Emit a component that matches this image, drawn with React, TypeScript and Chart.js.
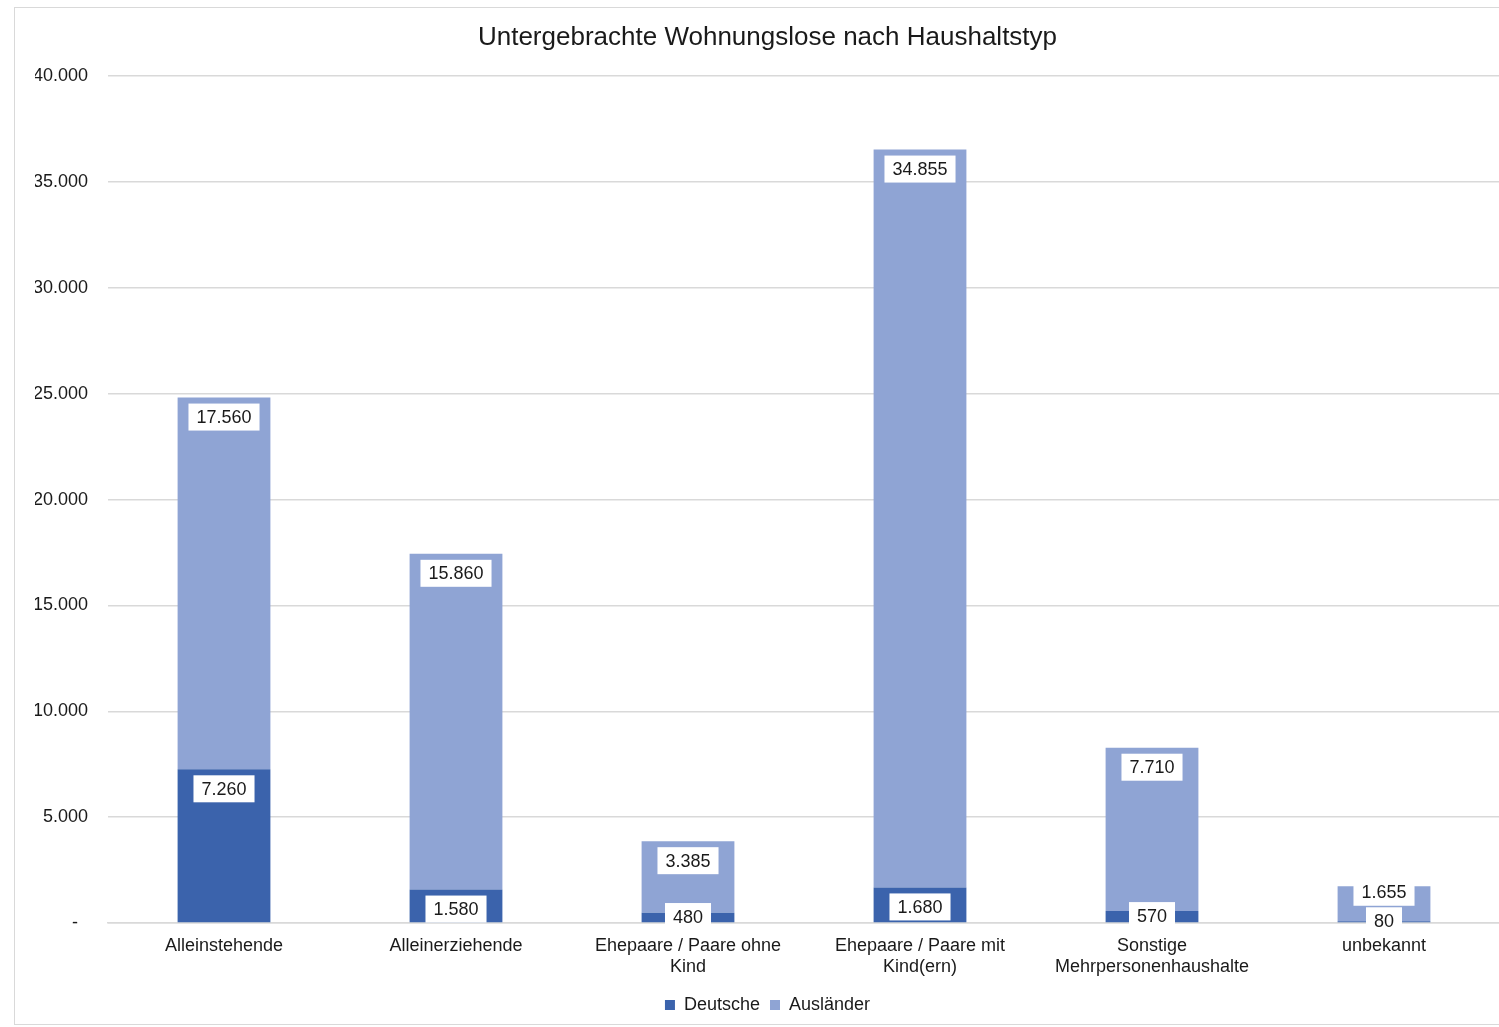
import React, { useEffect, useRef } from "react";
import { Chart, registerables } from "chart.js";

Chart.register(...registerables);

const categories: (string | string[])[] = [
  "Alleinstehende",
  "Alleinerziehende",
  ["Ehepaare / Paare ohne", "Kind"],
  ["Ehepaare / Paare mit", "Kind(ern)"],
  ["Sonstige", "Mehrpersonenhaushalte"],
  "unbekannt",
];
const deutsche = [7260, 1580, 480, 1680, 570, 80];
const auslaender = [17560, 15860, 3385, 34855, 7710, 1655];
const seriesNames = ["Deutsche", "Ausländer"];
const title = "Untergebrachte Wohnungslose nach Haushaltstyp";

const FONT = "'Liberation Sans', Arial, sans-serif";
const fmt = (v: number) => v.toLocaleString("de-DE");

const labelPlugin = {
  id: "boxLabels",
  afterDatasetsDraw(chart: any) {
    const ctx = chart.ctx;
    ctx.save();
    ctx.font = `18px ${FONT}`;
    ctx.textAlign = "center";
    ctx.textBaseline = "middle";
    chart.data.datasets.forEach((ds: any, di: number) => {
      const meta = chart.getDatasetMeta(di);
      meta.data.forEach((bar: any, i: number) => {
        const v = ds.data[i];
        const top = Math.min(bar.y, bar.base);
        const bottom = Math.max(bar.y, bar.base);
        const h = bottom - top;
        let cy: number;
        if (di === 0) {
          cy = h >= 30 ? top + 19.5 : (top + bottom) / 2 - 1;
        } else {
          cy = h >= 45 ? top + 19.5 : top + 6;
        }
        const text = fmt(v);
        const tw = ctx.measureText(text).width;
        const bw = tw + 16;
        const bh = 27;
        ctx.fillStyle = "#ffffff";
        ctx.fillRect(bar.x - bw / 2, cy - bh / 2, bw, bh);
        ctx.fillStyle = "#1a1a1a";
        ctx.fillText(text, bar.x, cy + 1);
      });
    });
    ctx.restore();
  },
};

export default function App() {
  const ref = useRef<HTMLCanvasElement>(null);
  useEffect(() => {
    if (!ref.current) return;
    const chart = new Chart(ref.current, {
      type: "bar",
      data: {
        labels: categories,
        datasets: [
          {
            label: seriesNames[0],
            data: deutsche,
            backgroundColor: "#3B63AC",
            barPercentage: 0.4,
            categoryPercentage: 1,
          },
          {
            label: seriesNames[1],
            data: auslaender,
            backgroundColor: "#8FA4D4",
            barPercentage: 0.4,
            categoryPercentage: 1,
          },
        ],
      },
      options: {
        animation: false,
        responsive: true,
        maintainAspectRatio: false,
        layout: { padding: { left: 20, right: 19, top: 0, bottom: 0 } },
        plugins: {
          title: {
            display: true,
            text: title,
            color: "#1a1a1a",
            font: { family: FONT, size: 26, weight: "normal" as any },
            padding: { top: 14, bottom: 23 },
          },
          legend: {
            position: "bottom",
            labels: {
              color: "#1a1a1a",
              font: { family: FONT, size: 18 },
              boxWidth: 10,
              boxHeight: 10,
              padding: 10,
            },
          },
          tooltip: { enabled: false },
        },
        scales: {
          x: {
            stacked: true,
            grid: { display: false, drawTicks: false },
            border: { display: true, color: "#d9d9d9", width: 1.5 },
            ticks: {
              color: "#1a1a1a",
              font: { family: FONT, size: 18 },
              maxRotation: 0,
              autoSkip: false,
              padding: 12,
            },
            afterFit: (s: any) => {
              s.height = 63;
            },
          },
          y: {
            stacked: true,
            min: 0,
            max: 40000,
            grid: { color: "#d9d9d9", lineWidth: 1.5, drawTicks: false },
            border: { display: false },
            ticks: {
              stepSize: 5000,
              color: "#1a1a1a",
              font: { family: FONT, size: 18 },
              padding: 20,
              callback: (v: any) => (Number(v) === 0 ? "-  " : fmt(Number(v))),
            },
            afterFit: (s: any) => {
              s.width = 73;
            },
          },
        },
      },
      plugins: [labelPlugin],
    });
    return () => chart.destroy();
  }, []);

  return (
    <div style={{ position: "fixed", inset: 0, overflow: "hidden", background: "#fff" }}>
      <div
        style={{
          position: "absolute",
          left: 14,
          top: 7,
          width: 1506,
          height: 1018,
          border: "1px solid #d9d9d9",
          boxSizing: "border-box",
        }}
      >
        <canvas ref={ref} />
      </div>
    </div>
  );
}
